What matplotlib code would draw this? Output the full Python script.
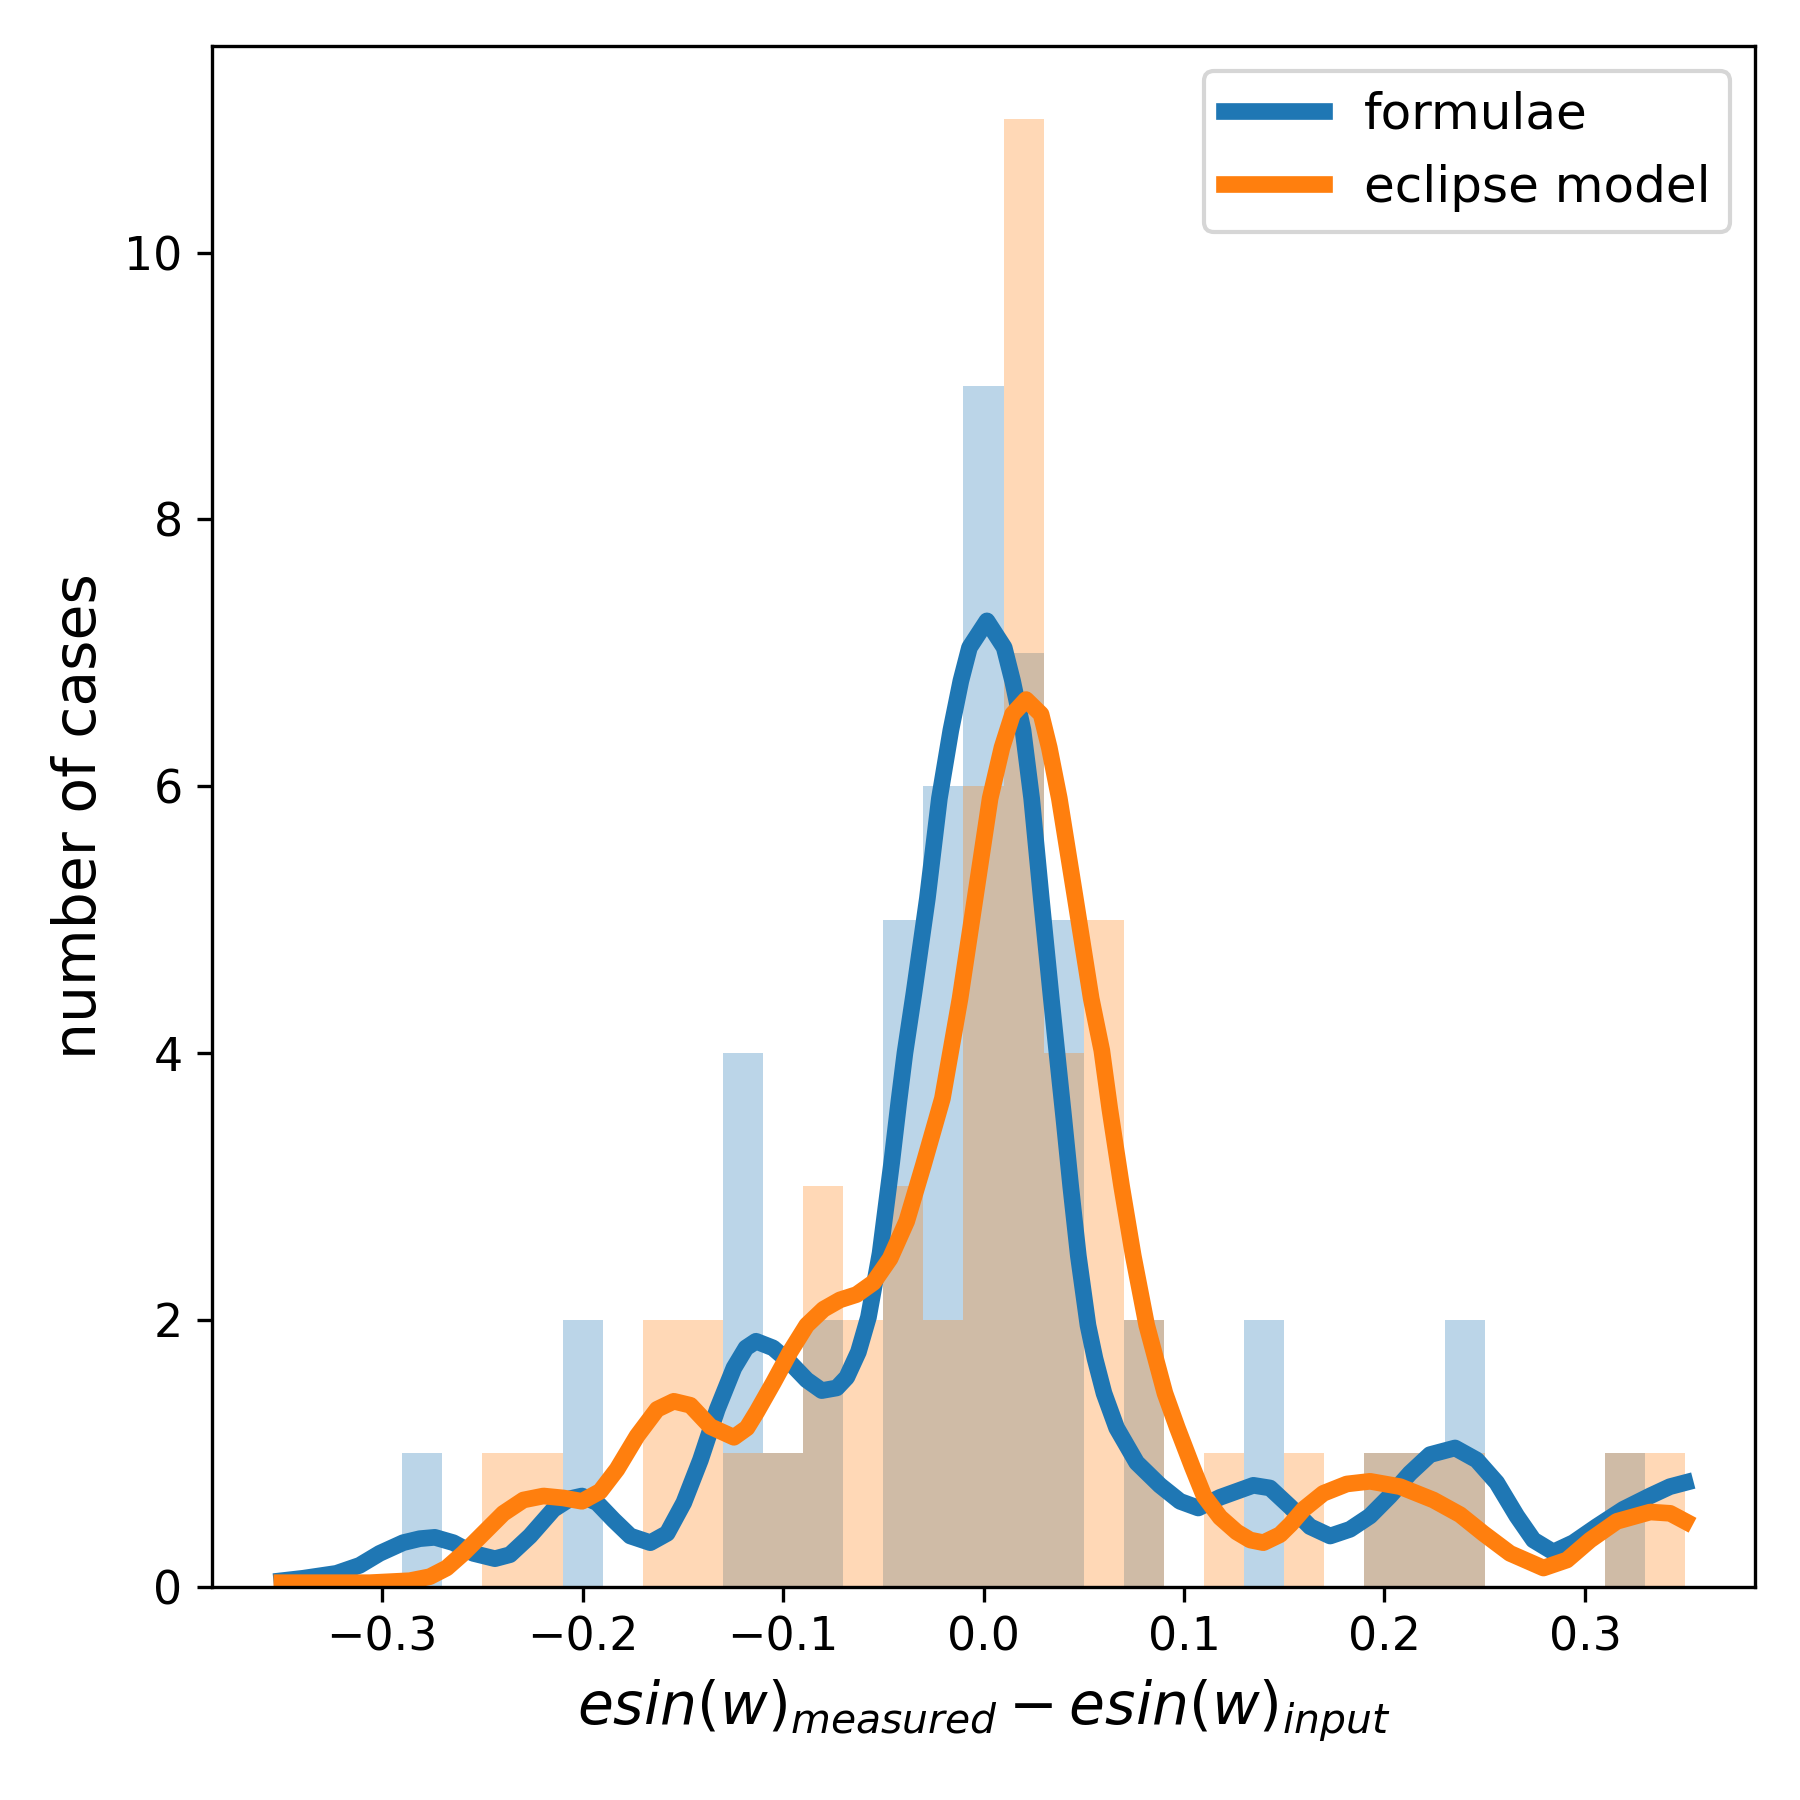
import numpy as np
import matplotlib
matplotlib.use("Agg")
import matplotlib.pyplot as plt

# histogram bins (width 0.02 from -0.35 to 0.35)
bin_edges = np.round(np.arange(-0.35, 0.3501, 0.02), 3)
bin_centers = (bin_edges[:-1] + bin_edges[1:]) / 2

counts_formulae = [0, 0, 0, 1, 0, 0, 0, 2, 0, 0, 0, 4, 1, 2, 0, 5, 6, 9, 7, 5,
                   0, 2, 0, 0, 2, 0, 0, 1, 1, 2, 0, 0, 0, 1, 0]
counts_eclipse = [0, 0, 0, 0, 0, 1, 1, 0, 0, 2, 2, 1, 1, 3, 2, 3, 2, 6, 11, 4,
                  5, 2, 0, 1, 0, 1, 0, 1, 1, 1, 0, 0, 0, 1, 1]

# smooth curves, points
curve_formulae_x = [-0.350, -0.3395, -0.3228, -0.3112, -0.3012, -0.2895, -0.2812, -0.2737,
                    -0.2645, -0.2545, -0.2437, -0.2362, -0.2262, -0.2145, -0.2062, -0.2003,
                    -0.1928, -0.1845, -0.1762, -0.1662, -0.1578, -0.1495, -0.1412, -0.1328,
                    -0.1245, -0.1185, -0.1135, -0.1050, -0.0965, -0.0882, -0.0807, -0.0732,
                    -0.0682, -0.0624, -0.0574, -0.0516, -0.0458, -0.0422, -0.0392, -0.0347,
                    -0.0280, -0.0220, -0.0163, -0.0113, -0.0070, 0.0017, 0.0103, 0.0145,
                    0.0197, 0.0240, 0.0288, 0.0338, 0.0372, 0.0400, 0.0435, 0.0473,
                    0.0521, 0.0556, 0.0601, 0.0664, 0.0764, 0.0880, 0.0980, 0.1071,
                    0.1180, 0.1346, 0.1429, 0.1529, 0.1629, 0.1729, 0.1828, 0.1928,
                    0.2027, 0.2127, 0.2227, 0.2352, 0.2460, 0.2560, 0.2660, 0.2743,
                    0.2842, 0.2942, 0.3058, 0.3191, 0.3324, 0.3424, 0.3500]
curve_formulae_y = [0.045, 0.063, 0.10, 0.16, 0.25, 0.33, 0.36, 0.37,
                    0.33, 0.25, 0.21, 0.24, 0.38, 0.58, 0.66, 0.68,
                    0.63, 0.50, 0.38, 0.33, 0.40, 0.63, 0.95, 1.33,
                    1.64, 1.79, 1.84, 1.79, 1.68, 1.55, 1.47, 1.49,
                    1.57, 1.76, 2.02, 2.50, 3.18, 3.64, 4.00, 4.45,
                    5.16, 5.91, 6.42, 6.79, 7.04, 7.24, 7.04, 6.79,
                    6.42, 5.91, 5.16, 4.41, 3.92, 3.52, 3.00, 2.48,
                    1.96, 1.71, 1.45, 1.19, 0.93, 0.76, 0.64, 0.59,
                    0.67, 0.76, 0.74, 0.60, 0.45, 0.38, 0.43, 0.53,
                    0.68, 0.85, 0.99, 1.04, 0.95, 0.78, 0.53, 0.35,
                    0.26, 0.33, 0.45, 0.58, 0.68, 0.75, 0.78]

curve_eclipse_x = [-0.350, -0.3062, -0.2862, -0.2762, -0.2678, -0.2595, -0.2495, -0.2395,
                   -0.2295, -0.2195, -0.2095, -0.2003, -0.1912, -0.1828, -0.1728, -0.1628,
                   -0.1545, -0.1462, -0.1362, -0.1245, -0.1180, -0.1131, -0.1048, -0.0965,
                   -0.0882, -0.0798, -0.0716, -0.0633, -0.0549, -0.0466, -0.0383, -0.0300,
                   -0.0205, -0.0117, -0.0042, 0.0033, 0.0092, 0.0145, 0.0212, 0.0287,
                   0.0328, 0.0378, 0.0458, 0.0537, 0.0590, 0.0630, 0.0689, 0.0747,
                   0.0814, 0.0905, 0.0967, 0.1041, 0.1100, 0.1180, 0.1263, 0.1330,
                   0.1396, 0.1479, 0.1533, 0.1596, 0.1695, 0.1812, 0.1928, 0.2078,
                   0.2244, 0.2377, 0.2493, 0.2626, 0.2793, 0.2910, 0.3026, 0.3159,
                   0.3326, 0.3425, 0.3500]
curve_eclipse_y = [0.03, 0.03, 0.045, 0.075, 0.14, 0.25, 0.40, 0.55,
                   0.65, 0.68, 0.665, 0.64, 0.715, 0.88, 1.13, 1.33,
                   1.39, 1.36, 1.20, 1.12, 1.19, 1.31, 1.53, 1.76,
                   1.96, 2.08, 2.15, 2.19, 2.28, 2.46, 2.74, 3.16,
                   3.66, 4.41, 5.16, 5.91, 6.29, 6.54, 6.65, 6.54,
                   6.29, 5.91, 5.16, 4.41, 4.02, 3.58, 3.00, 2.48,
                   1.96, 1.45, 1.19, 0.90, 0.68, 0.52, 0.41, 0.35,
                   0.33, 0.39, 0.47, 0.58, 0.70, 0.77, 0.79, 0.75,
                   0.65, 0.54, 0.40, 0.25, 0.14, 0.20, 0.35, 0.49,
                   0.56, 0.55, 0.49]

labels = ["formulae", "eclipse model"]
colors = ["#1f77b4", "#ff7f0e"]

fig, ax = plt.subplots(figsize=(6, 6), dpi=300)
fig.subplots_adjust(left=0.1176, right=0.9752, bottom=0.1185, top=0.9745)

ax.hist(bin_centers, bins=bin_edges, weights=counts_formulae, color=colors[0], alpha=0.3)
ax.hist(bin_centers, bins=bin_edges, weights=counts_eclipse, color=colors[1], alpha=0.3)
ax.plot(curve_formulae_x, curve_formulae_y, color=colors[0], lw=4, label=labels[0],
        solid_joinstyle='round')
ax.plot(curve_eclipse_x, curve_eclipse_y, color=colors[1], lw=4, label=labels[1],
        solid_joinstyle='round')

ax.set_xlabel(r'$esin(w)_{measured} - esin(w)_{input}$', fontsize=14)
ax.set_ylabel('number of cases', fontsize=14)
ax.tick_params(labelsize=11)
ax.legend(loc='upper right', fontsize=12)

fig.savefig("out.png", dpi=300)
